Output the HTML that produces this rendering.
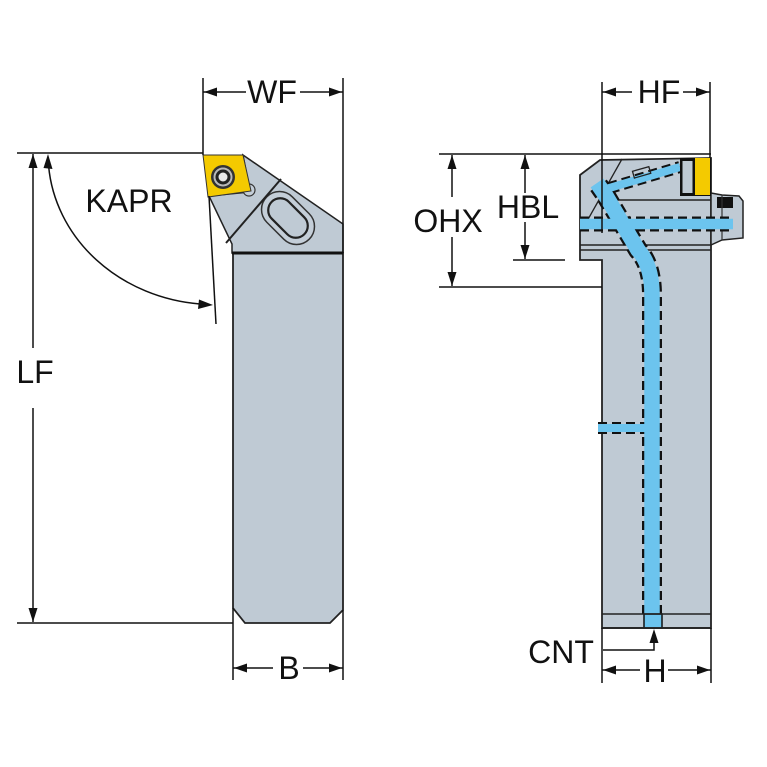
<!DOCTYPE html>
<html><head><meta charset="utf-8"><style>
html,body{margin:0;padding:0;background:#fff;}
svg{display:block;}
text{font-family:"Liberation Sans",sans-serif;font-size:32px;fill:#111;}
</style></head><body>
<svg width="767" height="767" viewBox="0 0 767 767" xmlns="http://www.w3.org/2000/svg">
<rect width="767" height="767" fill="#fff"/>

<!-- ============ LEFT FIGURE ============ -->
<polygon points="243,155 343,224 343,253 232,253 232,244 209,196 250,192" fill="#bfcad4" stroke="#222" stroke-width="1.5"/>
<polygon points="233,253 343,253 343,610 330,623 245,623 233,608" fill="#bfcad4" stroke="#222" stroke-width="1.8"/>
<line x1="232" y1="253" x2="343" y2="253" stroke="#111" stroke-width="3"/>
<!-- slot -->
<g transform="translate(288,218) rotate(45)">
  <rect x="-30" y="-18" width="60" height="36" rx="18" fill="#c4ced8" stroke="#333" stroke-width="1.5"/>
  <rect x="-23" y="-12" width="46" height="24" rx="12" fill="#bfcad4" stroke="#222" stroke-width="2.2"/>
</g>
<line x1="226" y1="243" x2="281" y2="179" stroke="#222" stroke-width="2"/>
<circle cx="249" cy="190" r="6" fill="#c4ced8" stroke="#333" stroke-width="1.2"/>
<polygon points="203,155 243,155 251,191 208,197" fill="#f4ca00" stroke="#333" stroke-width="1"/>
<circle cx="223" cy="177" r="12" fill="#333"/>
<circle cx="223" cy="177" r="9.5" fill="#b9b9b9"/>
<circle cx="223" cy="177" r="7.5" fill="#222"/>
<circle cx="223" cy="177" r="4.5" fill="#e8e8e8"/>

<!-- WF -->
<line x1="203" y1="78" x2="203" y2="155" stroke="#111" stroke-width="1.5"/>
<line x1="343" y1="78" x2="343" y2="253" stroke="#111" stroke-width="1.5"/>
<line x1="203" y1="92" x2="246" y2="92" stroke="#111" stroke-width="1.5"/>
<line x1="300" y1="92" x2="343" y2="92" stroke="#111" stroke-width="1.5"/>
<polygon points="204,92 217,87.5 217,96.5" fill="#111"/>
<polygon points="342,92 329,87.5 329,96.5" fill="#111"/>
<text x="272" y="103" text-anchor="middle">WF</text>

<!-- LF -->
<line x1="17" y1="153" x2="203" y2="153" stroke="#111" stroke-width="1.5"/>
<line x1="17" y1="623" x2="233" y2="623" stroke="#111" stroke-width="1.5"/>
<line x1="33" y1="154" x2="33" y2="348" stroke="#111" stroke-width="1.5"/>
<line x1="33" y1="408" x2="33" y2="622" stroke="#111" stroke-width="1.5"/>
<polygon points="33,154 28.5,168 37.5,168" fill="#111"/>
<polygon points="33,622 28.5,608 37.5,608" fill="#111"/>
<text x="35" y="383" text-anchor="middle">LF</text>

<!-- KAPR -->
<path d="M48.6,166 A167,151 0 0 0 200,304" fill="none" stroke="#111" stroke-width="1.5"/>
<polygon points="48,154 43.5,168 52.5,169" fill="#111"/>
<polygon points="213,305 199,299.5 198,309" fill="#111"/>
<line x1="209" y1="196" x2="216" y2="324" stroke="#111" stroke-width="1.5"/>
<text x="129" y="212" text-anchor="middle">KAPR</text>

<!-- B -->
<line x1="233" y1="608" x2="233" y2="680" stroke="#111" stroke-width="1.5"/>
<line x1="343" y1="610" x2="343" y2="680" stroke="#111" stroke-width="1.5"/>
<line x1="233" y1="668" x2="273" y2="668" stroke="#111" stroke-width="1.5"/>
<line x1="303" y1="668" x2="343" y2="668" stroke="#111" stroke-width="1.5"/>
<polygon points="234,668 247,663.5 247,672.5" fill="#111"/>
<polygon points="342,668 329,663.5 329,672.5" fill="#111"/>
<text x="289" y="679" text-anchor="middle">B</text>

<!-- ============ RIGHT FIGURE ============ -->
<polygon points="580,175 600,160 711,158 711,628 602,628 602,260 580,260" fill="#bfcad4" stroke="#222" stroke-width="1.8"/>
<polygon points="711,193 722,195 739,196 743,201 743,238 722,240 711,245" fill="#bfcad4" stroke="#222" stroke-width="1.5"/>
<rect x="717" y="197" width="16" height="11" fill="#111"/>
<line x1="722" y1="195" x2="722" y2="240" stroke="#333" stroke-width="1.2"/>
<line x1="612" y1="200" x2="711" y2="200" stroke="#222" stroke-width="1.5"/>
<line x1="580" y1="245" x2="711" y2="245" stroke="#222" stroke-width="1.5"/>
<line x1="580" y1="250" x2="711" y2="250" stroke="#222" stroke-width="1.5"/>
<line x1="622" y1="159" x2="582" y2="230" stroke="#222" stroke-width="1.3"/>

<g fill="none" stroke-linecap="butt" stroke-linejoin="round">
  <path d="M652,614 L652,295 Q652,265 638,250 L606,196 L597,183" stroke="#111" stroke-width="20" stroke-dasharray="9,5"/>
  <path d="M580,224 L733,224" stroke="#111" stroke-width="15" stroke-dasharray="9,5"/>
  <path d="M596,192 L680,167" stroke="#111" stroke-width="12" stroke-dasharray="9,5"/>
  <path d="M598,428 L652,428" stroke="#111" stroke-width="12" stroke-dasharray="9,5"/>
  <path d="M652,614 L652,295 Q652,265 638,250 L606,196 L597,183" stroke="#6cc4ee" stroke-width="15.5"/>
  <path d="M580,224 L733,224" stroke="#6cc4ee" stroke-width="10.5"/>
  <path d="M596,192 L680,167" stroke="#6cc4ee" stroke-width="8"/>
  <path d="M598,428 L646,428" stroke="#6cc4ee" stroke-width="8"/>
</g>
<rect x="644" y="614" width="18" height="14" fill="#6cc4ee" stroke="#111" stroke-width="1.5"/>
<rect x="633" y="169" width="17" height="7" fill="none" stroke="#222" stroke-width="1.3" transform="rotate(-16 641 172)"/>
<line x1="602" y1="614" x2="711" y2="614" stroke="#222" stroke-width="1.5"/>
<line x1="602" y1="628" x2="711" y2="628" stroke="#222" stroke-width="1.8"/>

<rect x="680" y="158" width="31" height="38" fill="#111"/>
<rect x="682.5" y="161" width="10" height="32" fill="#bfcad4"/>
<rect x="695" y="158" width="15" height="37" fill="#f4ca00"/>

<!-- HF -->
<line x1="602" y1="82" x2="602" y2="233" stroke="#111" stroke-width="1.5"/>
<line x1="710" y1="82" x2="710" y2="158" stroke="#111" stroke-width="1.5"/>
<line x1="602" y1="92" x2="632" y2="92" stroke="#111" stroke-width="1.5"/>
<line x1="683" y1="92" x2="710" y2="92" stroke="#111" stroke-width="1.5"/>
<polygon points="603,92 616,87.5 616,96.5" fill="#111"/>
<polygon points="709,92 696,87.5 696,96.5" fill="#111"/>
<text x="659" y="103" text-anchor="middle">HF</text>

<!-- OHX / HBL -->
<line x1="439" y1="154" x2="711" y2="154" stroke="#111" stroke-width="1.5"/>
<line x1="439" y1="287" x2="602" y2="287" stroke="#111" stroke-width="1.5"/>
<line x1="513" y1="260" x2="565" y2="260" stroke="#111" stroke-width="1.5"/>
<line x1="452" y1="155" x2="452" y2="197" stroke="#111" stroke-width="1.5"/>
<line x1="452" y1="237" x2="452" y2="286" stroke="#111" stroke-width="1.5"/>
<polygon points="452,155 447.5,169 456.5,169" fill="#111"/>
<polygon points="452,286 447.5,272 456.5,272" fill="#111"/>
<line x1="525" y1="155" x2="525" y2="193" stroke="#111" stroke-width="1.5"/>
<line x1="525" y1="222" x2="525" y2="259" stroke="#111" stroke-width="1.5"/>
<polygon points="525,155 520.5,169 529.5,169" fill="#111"/>
<polygon points="525,259 520.5,245 529.5,245" fill="#111"/>
<text x="448" y="232" text-anchor="middle">OHX</text>
<text x="528" y="218" text-anchor="middle">HBL</text>

<!-- CNT / H -->
<line x1="602" y1="628" x2="602" y2="683" stroke="#111" stroke-width="1.5"/>
<line x1="711" y1="628" x2="711" y2="683" stroke="#111" stroke-width="1.5"/>
<polyline points="603,650 654,650 654,640" fill="none" stroke="#111" stroke-width="1.5"/>
<polygon points="654,629 649.5,643 658.5,643" fill="#111"/>
<line x1="602" y1="670" x2="640" y2="670" stroke="#111" stroke-width="1.5"/>
<line x1="668" y1="670" x2="711" y2="670" stroke="#111" stroke-width="1.5"/>
<polygon points="603,670 616,665.5 616,674.5" fill="#111"/>
<polygon points="710,670 697,665.5 697,674.5" fill="#111"/>
<text x="561" y="663" text-anchor="middle">CNT</text>
<text x="655" y="682" text-anchor="middle">H</text>
</svg>
</body></html>
